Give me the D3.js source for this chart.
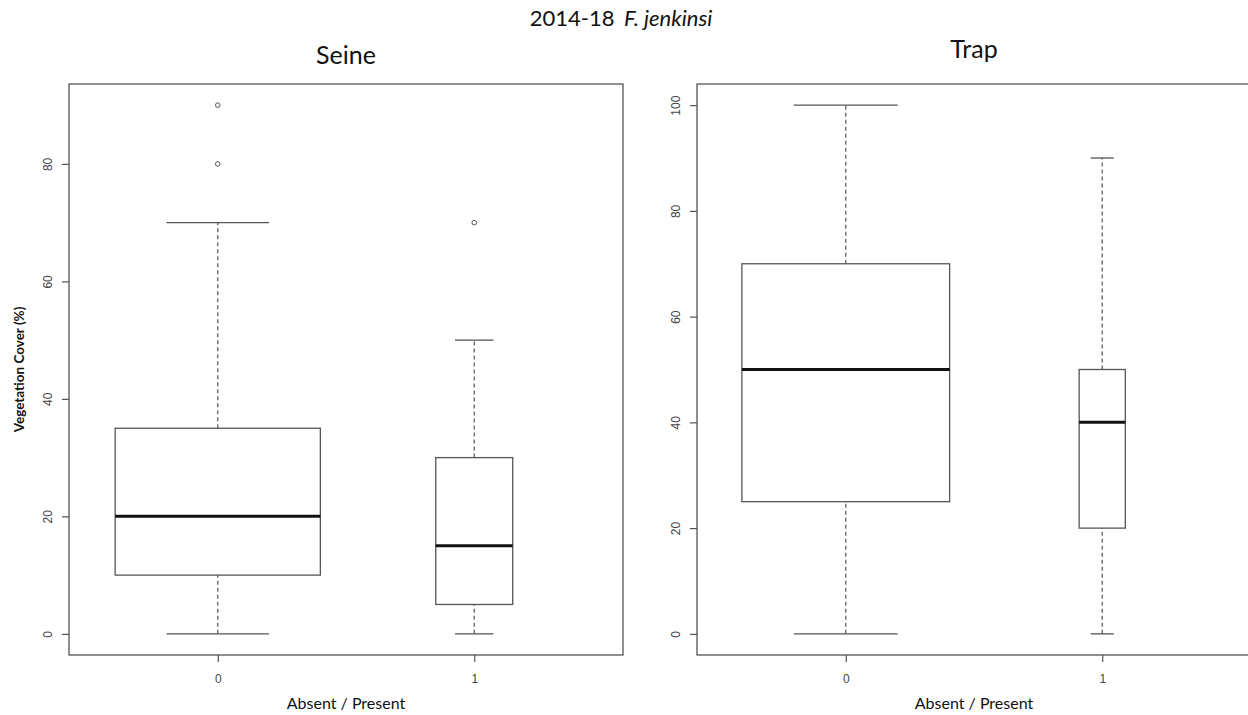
<!DOCTYPE html>
<html>
<head>
<meta charset="utf-8">
<script src="https://cdn.jsdelivr.net/npm/d3@7"></script>
<style>
  body { margin: 0; background: #ffffff; }
  svg { display: block; }
</style>
</head>
<body>
<svg id="plot"></svg>
<script>
// Data
const groups = ["0", "1"];

// Seine panel: [min, q1, median, q3, upper whisker]
const seineStats = [
  [0, 10, 20, 35, 70],
  [0, 5, 15, 30, 50]
];
const seineOutliers = [[80, 90], [70]];
const seineWidths = [0.8, 0.3];   // varwidth boxes, relative to group spacing

// Trap panel
const trapStats = [
  [0, 25, 50, 70, 100],
  [0, 20, 40, 50, 90]
];
const trapOutliers = [[], []];
const trapWidths = [0.81, 0.18];

const seineTicks = [0, 20, 40, 60, 80];
const trapTicks = [0, 20, 40, 60, 80, 100];

const W = 1248, H = 715;
const svg = d3.select("#plot").attr("width", W).attr("height", H);

const lineCol = "#555555";
const tickFont = "Liberation Sans, Arial, sans-serif";
const labelFont = "Lato, 'Open Sans', sans-serif";

// Main title
const title = svg.append("text")
    .attr("x", 621)
    .attr("y", 26)
    .attr("text-anchor", "middle")
    .style("font-family", labelFont)
    .style("font-size", "22px")
    .style("fill", "#111");
title.append("tspan").text("2014-18 ");
title.append("tspan").attr("dx", 4).style("font-style", "italic").text("F. jenkinsi");

function drawPanel(opts) {
  const { left, stats, outliers, widths, ticks, name, nameY, yMax, yLabel } = opts;
  const top = 84, bottom = 655, width = 554;

  // R-style 4% padding on both axes
  const pad = yMax * 0.04;
  const y = d3.scaleLinear().domain([-pad, yMax + pad]).range([bottom, top]);
  const x = d3.scaleLinear().domain([0.42, 2.58]).range([left, left + width]);

  const g = svg.append("g");

  // Frame
  g.append("rect")
      .attr("x", left)
      .attr("y", top)
      .attr("width", width)
      .attr("height", bottom - top)
      .attr("fill", "none")
      .attr("stroke", lineCol)
      .attr("stroke-width", 1.3);

  // Y axis
  const yAxis = g.append("g")
      .attr("transform", "translate(" + left + ",0)")
      .call(d3.axisLeft(y).tickValues(ticks).tickSize(7).tickPadding(6));
  yAxis.select(".domain").remove();
  yAxis.selectAll(".tick line").attr("stroke", lineCol).attr("stroke-width", 1.2);
  yAxis.selectAll(".tick text")
      .attr("transform", "rotate(-90)")
      .attr("x", 0)
      .attr("y", -17)
      .attr("dy", 0)
      .attr("text-anchor", "middle")
      .style("font-family", tickFont)
      .style("font-size", "12px")
      .style("fill", "#444");

  // X axis
  const xAxis = g.append("g")
      .attr("transform", "translate(0," + bottom + ")")
      .call(d3.axisBottom(x).tickValues([1, 2]).tickFormat((d, i) => groups[i]).tickSize(7).tickPadding(12));
  xAxis.select(".domain").remove();
  xAxis.selectAll(".tick line").attr("stroke", lineCol).attr("stroke-width", 1.2);
  xAxis.selectAll(".tick text")
      .style("font-family", tickFont)
      .style("font-size", "12px")
      .style("fill", "#444");

  // Boxes
  stats.forEach(function(s, i) {
    const cx = x(i + 1);
    const half = (x(1 + widths[i] / 2) - x(1));
    const capHalf = half / 2;

    // whiskers (dashed)
    g.append("line")
        .attr("x1", cx).attr("x2", cx)
        .attr("y1", y(s[0])).attr("y2", y(s[1]))
        .attr("stroke", lineCol).attr("stroke-width", 1.2)
        .attr("stroke-dasharray", "4,3");
    g.append("line")
        .attr("x1", cx).attr("x2", cx)
        .attr("y1", y(s[3])).attr("y2", y(s[4]))
        .attr("stroke", lineCol).attr("stroke-width", 1.2)
        .attr("stroke-dasharray", "4,3");

    // caps
    [s[0], s[4]].forEach(function(v) {
      g.append("line")
          .attr("x1", cx - capHalf).attr("x2", cx + capHalf)
          .attr("y1", y(v)).attr("y2", y(v))
          .attr("stroke", lineCol).attr("stroke-width", 1.3);
    });

    // box
    g.append("rect")
        .attr("x", cx - half)
        .attr("y", y(s[3]))
        .attr("width", half * 2)
        .attr("height", y(s[1]) - y(s[3]))
        .attr("fill", "#fff")
        .attr("stroke", lineCol)
        .attr("stroke-width", 1.3);

    // median
    g.append("line")
        .attr("x1", cx - half).attr("x2", cx + half)
        .attr("y1", y(s[2])).attr("y2", y(s[2]))
        .attr("stroke", "#111").attr("stroke-width", 3);

    // outliers
    g.selectAll(null)
        .data(outliers[i])
        .enter().append("circle")
        .attr("cx", cx)
        .attr("cy", d => y(d))
        .attr("r", 2.3)
        .attr("fill", "none")
        .attr("stroke", lineCol)
        .attr("stroke-width", 1);
  });

  // Panel title
  svg.append("text")
      .attr("x", left + width / 2)
      .attr("y", nameY)
      .attr("text-anchor", "middle")
      .style("font-family", labelFont)
      .style("font-size", "25px")
      .style("fill", "#111")
      .text(name);

  // X label
  svg.append("text")
      .attr("x", left + width / 2)
      .attr("y", 709)
      .attr("text-anchor", "middle")
      .style("font-family", labelFont)
      .style("font-size", "16px")
      .style("fill", "#111")
      .text("Absent / Present");

  if (yLabel) {
    svg.append("text")
        .attr("transform", "translate(24," + ((top + bottom) / 2) + ") rotate(-90)")
        .attr("text-anchor", "middle")
        .style("font-family", labelFont)
        .style("font-size", "13.5px")
        .style("font-weight", "bold")
        .style("fill", "#111")
        .text(yLabel);
  }
}

drawPanel({
  left: 69, stats: seineStats, outliers: seineOutliers, widths: seineWidths,
  ticks: seineTicks, name: "Seine", nameY: 64, yMax: 90,
  yLabel: "Vegetation Cover (%)"
});

drawPanel({
  left: 697, stats: trapStats, outliers: trapOutliers, widths: trapWidths,
  ticks: trapTicks, name: "Trap", nameY: 58, yMax: 100,
  yLabel: null
});
</script>
</body>
</html>
